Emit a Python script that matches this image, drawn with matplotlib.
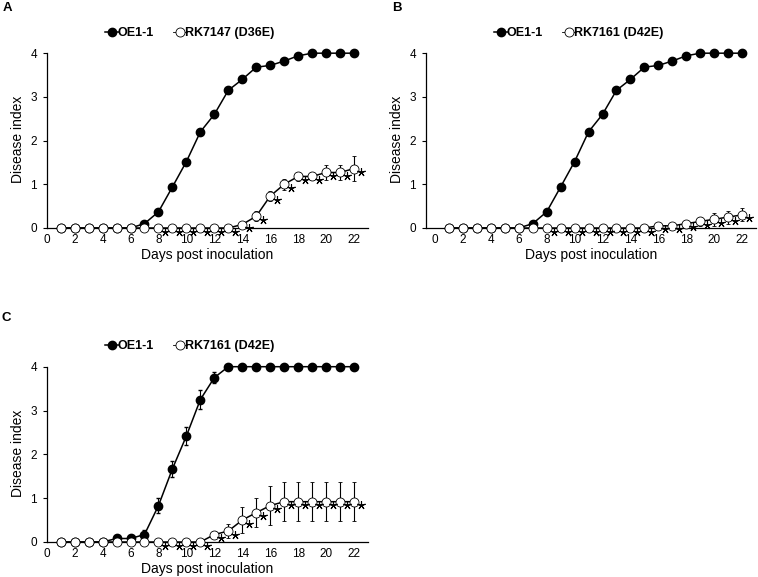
import matplotlib
matplotlib.use("Agg")
import matplotlib.pyplot as plt
import matplotlib.transforms as mtransforms
from matplotlib.lines import Line2D

plt.rcParams["font.family"] = ["Liberation Sans", "DejaVu Sans"]

days = list(range(1, 23))

# Panel A
a_oe = [0, 0, 0, 0, 0, 0, 0.1, 0.37, 0.94, 1.52, 2.2, 2.6, 3.15, 3.4, 3.68, 3.72,
        3.82, 3.94, 4, 4, 4, 4]
a_oe_err = [0, 0, 0, 0, 0, 0, 0.03, 0.05, 0.05, 0.06, 0.07, 0.08, 0.06, 0.05, 0.03, 0.03,
            0.03, 0.03, 0, 0, 0, 0]
a_mut = [0] * 13 + [0.08, 0.27, 0.73, 1.0, 1.18, 1.18, 1.27, 1.27, 1.36]
a_mut_err = [0] * 13 + [0.05, 0.12, 0.12, 0.12, 0.1, 0.09, 0.18, 0.18, 0.28]
a_stars = list(range(8, 23))

# Panel B
b_oe = a_oe
b_oe_err = a_oe_err
b_mut = [0] * 15 + [0.05, 0.05, 0.1, 0.15, 0.2, 0.25, 0.3]
b_mut_err = [0] * 15 + [0.02, 0.04, 0.06, 0.1, 0.15, 0.15, 0.15]
b_stars = list(range(8, 23))

# Panel C
c_oe = [0, 0, 0, 0, 0.08, 0.08, 0.17, 0.83, 1.67, 2.42, 3.25, 3.75, 4, 4, 4, 4,
        4, 4, 4, 4, 4, 4]
c_oe_err = [0, 0, 0, 0, 0.02, 0.02, 0.1, 0.17, 0.18, 0.2, 0.22, 0.12, 0, 0, 0, 0,
            0, 0, 0, 0, 0, 0]
c_mut = [0] * 11 + [0.17, 0.25, 0.5, 0.67, 0.83, 0.92, 0.92, 0.92, 0.92, 0.92, 0.92]
c_mut_err = [0] * 11 + [0.08, 0.17, 0.3, 0.33, 0.45, 0.45, 0.45, 0.45, 0.45, 0.45, 0.45]
c_stars = list(range(8, 23))

W, H = 758, 577
fig = plt.figure(figsize=(W / 100, H / 100), dpi=100)


def px_axes(x0, y0, x1, y1):
    return fig.add_axes([x0 / W, 1 - y1 / H, (x1 - x0) / W, (y1 - y0) / H])


def panel(ax, oe, oe_err, mut, mut_err, stars, mut_name, xmin, legend_xy):
    ax.errorbar(days, oe, yerr=oe_err, color="black", lw=1.1, marker="o", ms=6,
                mfc="black", mec="black", ecolor="black", elinewidth=0.8,
                capsize=1.5, clip_on=False, zorder=3)
    ax.errorbar(days, mut, yerr=mut_err, color="black", lw=1.1, marker="o", ms=6.5,
                mfc="white", mec="black", mew=0.6, ecolor="black", elinewidth=0.8,
                capsize=1.5, clip_on=False, zorder=4)
    # significance asterisks, just right of and below each point
    shift = mtransforms.offset_copy(ax.transData, fig=fig, x=7, y=-3.5, units="dots")
    ax.plot(stars, [mut[d - 1] for d in stars], ls="none", marker=(5, 2, 0), ms=6,
            mew=0.8, color="black", transform=shift, clip_on=False, zorder=5)
    ax.set_xlim(xmin, 23)
    ax.set_ylim(0, 4.05)
    ax.set_xticks(range(0, 23, 2))
    ax.set_yticks(range(0, 5))
    ax.tick_params(axis="x", length=0, pad=4, labelsize=8.5)
    ax.tick_params(axis="y", length=3, width=0.8, pad=4, labelsize=8.5)
    for s in ("top", "right"):
        ax.spines[s].set_visible(False)
    for s in ("left", "bottom"):
        ax.spines[s].set_linewidth(0.9)
    ax.spines["left"].set_bounds(0, 4)
    ax.set_xlabel("Days post inoculation", fontsize=10, labelpad=2)
    ax.set_ylabel("Disease index", fontsize=10, labelpad=4)

    h1 = Line2D([], [], color="black", lw=1.1, marker="o", ms=6, mfc="black", mec="black")
    h2 = Line2D([], [], color="black", lw=0.6, marker="o", ms=6.5, mfc="white",
                mec="black", mew=0.6)
    fig.legend([h1, h2], ["OE1-1", mut_name], loc="center",
               bbox_to_anchor=(legend_xy[0] / W, 1 - legend_xy[1] / H), ncol=2,
               frameon=False, handlelength=1.1, handletextpad=-0.1, columnspacing=1.5,
               prop={"weight": "bold", "size": 9})


axA = px_axes(46.7, 51, 368, 228)
panel(axA, a_oe, a_oe_err, a_mut, a_mut_err, a_stars, "RK7147 (D36E)", 0, (190, 33))

axB = px_axes(425.7, 51, 756, 228)
panel(axB, b_oe, b_oe_err, b_mut, b_mut_err, b_stars, "RK7161 (D42E)", -0.67, (579, 33))

axC = px_axes(46.7, 364.5, 368, 542)
panel(axC, c_oe, c_oe_err, c_mut, c_mut_err, c_stars, "RK7161 (D42E)", 0, (190, 346))

for lab, x, y in (("A", 3, 8), ("B", 392, 8), ("C", 2, 318)):
    fig.text(x / W, 1 - y / H, lab, fontsize=9.5, fontweight="bold", va="center", ha="left")

fig.savefig("out.png", dpi=100)
